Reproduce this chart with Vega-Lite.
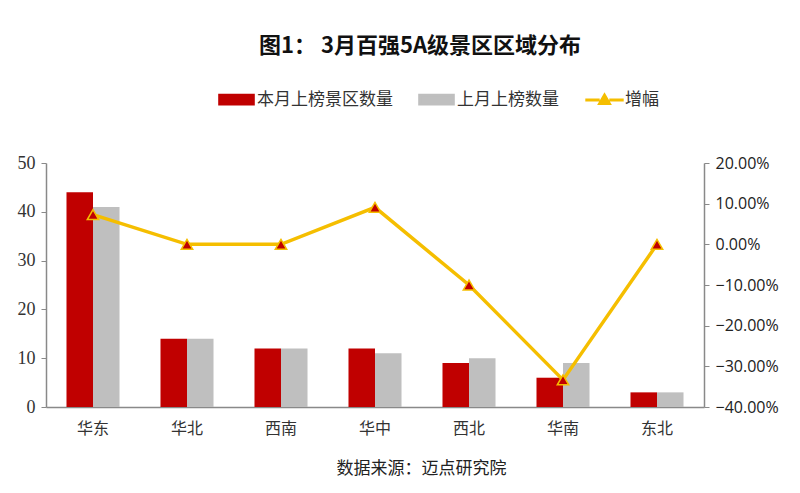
{
  "$schema": "https://vega.github.io/schema/vega-lite/v6.json",
  "width": 658,
  "height": 244,
  "autosize": {"type": "none"},
  "padding": {"left": 46, "top": 163, "right": 96, "bottom": 86},
  "background": "white",
  "title": {
    "text": "图1： 3月百强5A级景区区域分布",
    "font": "Noto Sans CJK SC",
    "fontSize": 22,
    "fontWeight": "bold",
    "color": "#111111",
    "anchor": "middle",
    "dx": 45,
    "offset": 32
  },
  "datasets": {
    "bars": [
      {"region": "华东", "series": "本月上榜景区数量", "count": 44},
      {"region": "华东", "series": "上月上榜数量", "count": 41},
      {"region": "华北", "series": "本月上榜景区数量", "count": 14},
      {"region": "华北", "series": "上月上榜数量", "count": 14},
      {"region": "西南", "series": "本月上榜景区数量", "count": 12},
      {"region": "西南", "series": "上月上榜数量", "count": 12},
      {"region": "华中", "series": "本月上榜景区数量", "count": 12},
      {"region": "华中", "series": "上月上榜数量", "count": 11},
      {"region": "西北", "series": "本月上榜景区数量", "count": 9},
      {"region": "西北", "series": "上月上榜数量", "count": 10},
      {"region": "华南", "series": "本月上榜景区数量", "count": 6},
      {"region": "华南", "series": "上月上榜数量", "count": 9},
      {"region": "东北", "series": "本月上榜景区数量", "count": 3},
      {"region": "东北", "series": "上月上榜数量", "count": 3}
    ],
    "growth": [
      {"region": "华东", "series": "增幅", "growth": 0.0732},
      {"region": "华北", "series": "增幅", "growth": 0},
      {"region": "西南", "series": "增幅", "growth": 0},
      {"region": "华中", "series": "增幅", "growth": 0.0909},
      {"region": "西北", "series": "增幅", "growth": -0.1},
      {"region": "华南", "series": "增幅", "growth": -0.3333},
      {"region": "东北", "series": "增幅", "growth": 0}
    ]
  },
  "encoding": {
    "x": {
      "field": "region",
      "type": "nominal",
      "sort": ["华东", "华北", "西南", "华中", "西北", "华南", "东北"],
      "scale": {"paddingInner": 0.436, "paddingOuter": 0.218},
      "axis": {
        "title": "数据来源：迈点研究院",
        "titleFont": "Noto Sans CJK SC",
        "titleFontSize": 17,
        "titleFontWeight": "normal",
        "titleColor": "#222222",
        "titlePadding": 24,
        "titleX": 375,
        "labelAngle": 0,
        "labelFont": "Noto Sans CJK SC",
        "labelFontSize": 16,
        "labelColor": "#333333",
        "labelPadding": 13,
        "ticks": false,
        "domainColor": "#898989",
        "domainWidth": 1.5
      }
    }
  },
  "layer": [
    {
      "data": {"name": "bars"},
      "mark": {"type": "bar"},
      "encoding": {
        "xOffset": {
          "field": "series",
          "type": "nominal",
          "sort": ["本月上榜景区数量", "上月上榜数量"],
          "scale": {"paddingInner": 0, "paddingOuter": 0}
        },
        "y": {
          "field": "count",
          "type": "quantitative",
          "scale": {"domain": [0, 50]},
          "axis": {
            "title": null,
            "values": [0, 10, 20, 30, 40, 50],
            "grid": false,
            "labelFont": "Liberation Serif, DejaVu Serif, serif",
            "labelFontSize": 18,
            "labelColor": "#333333",
            "labelPadding": 6,
            "tickColor": "#898989",
            "tickSize": 5,
            "domainColor": "#898989",
            "domainWidth": 1.5
          }
        },
        "color": {
          "field": "series",
          "type": "nominal",
          "scale": {
            "domain": ["本月上榜景区数量", "上月上榜数量", "增幅"],
            "range": ["#C00000", "#BFBFBF", "#F5BE00"]
          },
          "legend": {
            "title": null,
            "orient": "none",
            "direction": "horizontal",
            "legendX": 181,
            "legendY": -73,
            "padding": 0,
            "symbolSize": 256,
            "labelOffset": 11,
            "columnPadding": 20,
            "labelFont": "Noto Sans CJK SC",
            "labelFontSize": 17,
            "labelColor": "#333333",
            "encode": {
              "symbols": {
                "update": {
                  "shape": {"signal": "datum.label === '增幅' ? 'M-2.4,0H-0.6M0.6,0H2.4M0,-0.6L0.6,0.45H-0.6Z' : 'M-2.1,-0.55H2.1V0.55H-2.1Z'"},
                  "fill": {"signal": "datum.label === '增幅' ? '#C00000' : scale('color', datum.value)"},
                  "stroke": {"signal": "datum.label === '增幅' ? '#F5BE00' : 'transparent'"},
                  "strokeWidth": {"value": 3},
                  "opacity": {"value": 1}
                }
              }
            }
          }
        }
      }
    },
    {
      "data": {"name": "growth"},
      "mark": {"type": "line", "strokeWidth": 3.5},
      "encoding": {
        "y": {
          "field": "growth",
          "type": "quantitative",
          "scale": {"domain": [-0.4, 0.2]},
          "axis": {
            "orient": "right",
            "title": null,
            "values": [-0.4, -0.3, -0.2, -0.1, 0, 0.1, 0.2],
            "format": ".2%",
            "grid": false,
            "labelFont": "Open Sans",
            "labelFontSize": 16,
            "labelColor": "#222222",
            "labelPadding": 6,
            "tickColor": "#898989",
            "tickSize": 5,
            "domainColor": "#898989",
            "domainWidth": 1.5
          }
        },
        "color": {"field": "series", "type": "nominal"}
      }
    },
    {
      "data": {"name": "growth"},
      "mark": {
        "type": "point",
        "shape": "triangle-up",
        "filled": true,
        "fill": "#C00000",
        "stroke": "#F5BE00",
        "strokeWidth": 1.5,
        "size": 130,
        "opacity": 1
      },
      "encoding": {
        "y": {"field": "growth", "type": "quantitative", "scale": {"domain": [-0.4, 0.2]}, "axis": null}
      }
    }
  ],
  "resolve": {"scale": {"y": "independent"}},
  "config": {"view": {"stroke": null}}
}
